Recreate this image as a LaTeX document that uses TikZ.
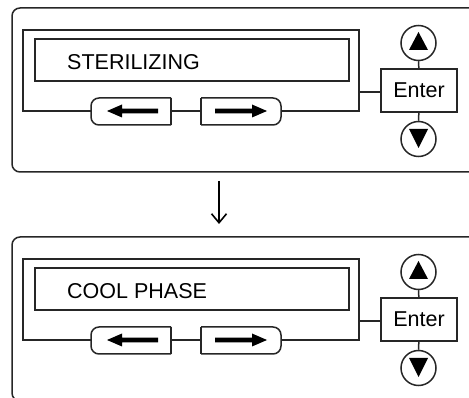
\documentclass[tikz,border=0pt]{standalone}
\usepackage{fontspec}
\setmainfont{Liberation Sans}
\usetikzlibrary{arrows.meta}
\begin{document}
\begin{tikzpicture}[x=1pt,y=-1pt,
  ln/.style={line width=1.5pt,draw=black!85},
  lbl/.style={font=\fontsize{21.5}{24}\selectfont,inner sep=0pt},
  enterbox/.style={ln,fill=white,minimum width=76pt,minimum height=43pt,inner sep=0pt,font=\fontsize{21.5}{24}\selectfont},
  knob/.style={ln,circle,fill=white,minimum size=35pt,inner sep=0pt},
  flow/.style={line width=1.6pt,-{Straight Barb[length=9pt,width=15pt,line width=1.6pt]}}
]
\useasboundingbox (0,0) rectangle (469,398);
\begin{scope}
\clip (0,0) rectangle (469,398);
\foreach \oy/\txt/\nm in {0/STERILIZING/p1, 229/COOL PHASE/p2}{
  \begin{scope}[yshift=-\oy pt]
    % outer panel
    \draw[ln,rounded corners=8pt] (490,8) -- (12,8) -- (12,172) -- (490,172);
    % display frame
    \draw[ln] (23,30) rectangle (359,111);
    % lcd
    \draw[ln] (35,39) rectangle (349,81);
    \node[lbl,anchor=west] (\nm-txt) at (67,62) {\txt};
    % buttons
    \draw[ln,fill=white,rounded corners=8pt] (171,98) -- (91,98) -- (91,125) -- (171,125);
    \draw[ln] (171,98) -- (171,125);
    \draw[ln,fill=white,rounded corners=8pt] (201,98) -- (281,98) -- (281,125) -- (201,125);
    \draw[ln] (201,98) -- (201,125);
    \fill[black] (107,111) -- (122,104.5) -- (122,108.7) -- (158,108.7) -- (158,113.3) -- (122,113.3) -- (122,117.5) -- cycle;
    \fill[black] (267,111) -- (252,104.5) -- (252,108.7) -- (215,108.7) -- (215,113.3) -- (252,113.3) -- (252,117.5) -- cycle;
    % enter and knobs
    \node[enterbox] (\nm-enter) at (419,90.5) {Enter};
    \node[knob] (\nm-up) at (418.5,43) {};
    \node[knob] (\nm-down) at (418.5,139) {};
    \fill[black] (418.5,32) -- (428,50) -- (409,50) -- cycle;
    \fill[black] (418.5,148) -- (428,129) -- (409,129) -- cycle;
    \coordinate (\nm-fr) at (359,92);
    \draw[ln] (\nm-fr) -- (\nm-enter.west |- \nm-fr);
    \draw[ln] (\nm-up) -- (\nm-enter);
    \draw[ln] (\nm-down) -- (\nm-enter);
  \end{scope}
}
\end{scope}
\coordinate (a1) at (219,181);
\coordinate (a2) at (219,224);
\draw[flow] (a1) -- (a2);
\end{tikzpicture}
\end{document}
